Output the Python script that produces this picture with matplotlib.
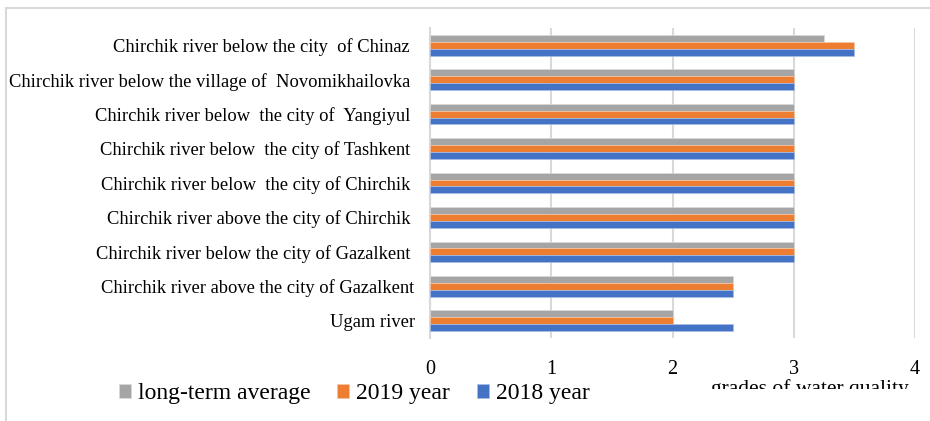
import matplotlib
matplotlib.use("Agg")
import matplotlib.pyplot as plt
from matplotlib.patches import Rectangle
import numpy as np

plt.rcParams["font.family"] = ["Liberation Serif", "DejaVu Serif"]

# bottom to top, as drawn on the chart
stations = [
    "Ugam river",
    "Chirchik river above the city of Gazalkent",
    "Chirchik river below the city of Gazalkent ",
    "Chirchik river above the city of Chirchik ",
    "Chirchik river below  the city of Chirchik ",
    "Chirchik river below  the city of Tashkent ",
    "Chirchik river below  the city of  Yangiyul ",
    "Chirchik river below the village of  Novomikhailovka ",
    "Chirchik river below the city  of Chinaz ",
]
long_term = [2, 2.5, 3, 3, 3, 3, 3, 3, 3.25]
year_2019 = [2, 2.5, 3, 3, 3, 3, 3, 3, 3.5]
year_2018 = [2.5, 2.5, 3, 3, 3, 3, 3, 3, 3.5]
x_ticks = [0, 1, 2, 3, 4]

GRAY = "#A5A5A5"
ORANGE = "#ED7D31"
BLUE = "#4472C4"
GRID = "#D9D9D9"

fig = plt.figure(figsize=(9.3, 4.21), dpi=100)
ax = fig.add_axes([430 / 930, 1 - 338 / 421, 485 / 930, 310 / 421])

y = np.arange(len(stations))
h = 0.2
b1 = ax.barh(y + h, long_term, height=h, color=GRAY, edgecolor="#DADADA", linewidth=0.5, label="long-term average", zorder=3)
b2 = ax.barh(y, year_2019, height=h, color=ORANGE, edgecolor="#F5C6A5", linewidth=0.5, label="2019 year", zorder=3)
b3 = ax.barh(y - h, year_2018, height=h, color=BLUE, edgecolor="#A9BEE6", linewidth=0.5, label="2018 year", zorder=3)

ax.set_xlim(0, 4)
ax.set_ylim(-0.5, len(stations) - 0.5)
ax.set_xticks(x_ticks)
ax.set_xticklabels([str(t) for t in x_ticks], fontsize=14.5)
ax.set_yticks(y)
ax.set_yticklabels(stations, fontsize=13.3)
ax.tick_params(axis="both", length=0)
ax.tick_params(axis="x", pad=16)
ax.tick_params(axis="y", pad=11)
ax.grid(axis="x", color=GRID, linewidth=1.5, zorder=0)
for s in ["top", "right", "bottom"]:
    ax.spines[s].set_visible(False)
ax.spines["left"].set_color(GRID)
ax.spines["left"].set_linewidth(1.5)

# x axis title, partly hidden under the legend band like in the original
ax.text(810 / 930, 1 - 379 / 421, "grades of water quality", transform=fig.transFigure,
        ha="center", va="top", fontsize=15.5, clip_on=False, zorder=1)
ax.add_patch(Rectangle((680 / 930, 0), 245 / 930, 1 - 389 / 421, transform=fig.transFigure,
                       facecolor="white", edgecolor="none", clip_on=False, zorder=4))

ax.legend(handles=[b1, b2, b3], loc="center left", bbox_to_anchor=(114 / 930, 1 - 394 / 421),
          bbox_transform=fig.transFigure, ncol=3, frameon=False, fontsize=17,
          handlelength=0.5, handleheight=0.5, handletextpad=0.3, columnspacing=1.15,
          borderaxespad=0, borderpad=0.2)

# outer chart border
fig.patches.append(Rectangle((6 / 930, -0.1), 1.1, 1 - 8 / 421 + 0.1, transform=fig.transFigure,
                             facecolor="none", edgecolor=GRID, linewidth=1.5))

fig.savefig("out.png", dpi=100)
